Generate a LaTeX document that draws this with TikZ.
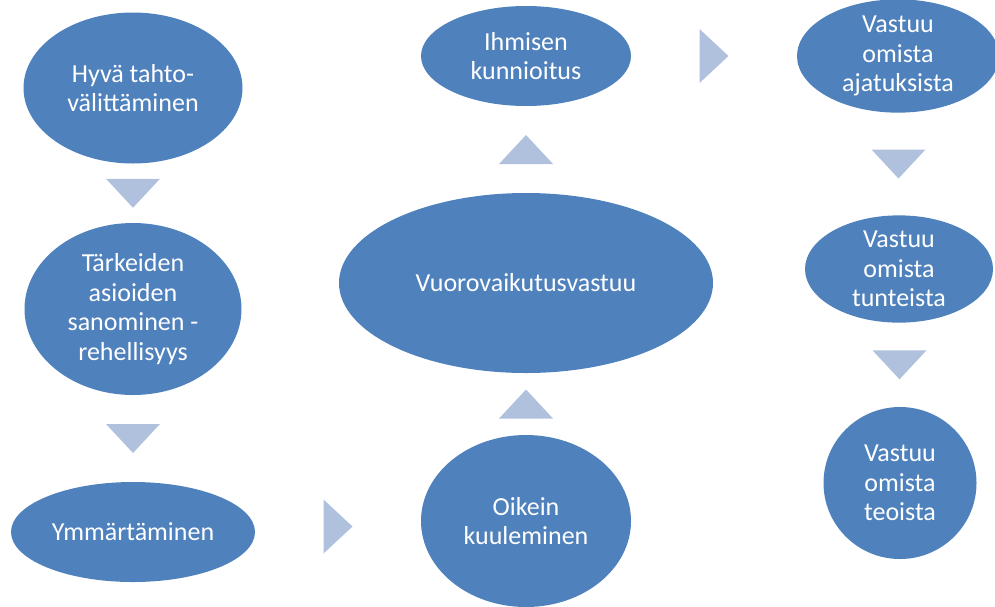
\documentclass[tikz,border=0pt]{standalone}
\usepackage{fontspec}
\setmainfont{Carlito}
\usetikzlibrary{shapes.geometric}
\definecolor{ideablue}{HTML}{4F81BD}
\definecolor{flowblue}{HTML}{B0C1DE}
\begin{document}
\begin{tikzpicture}[x=1pt,y=-1pt]
	\tikzstyle{idea}=[ellipse,fill=ideablue,text=white,inner sep=0pt,align=center,font=\fontsize{26}{29.5}\selectfont]
	\tikzset{flow/.pic={\fill[flowblue] (-14.5,-27) -- (14.5,0) -- (-14.5,27) -- cycle;}}
	\useasboundingbox (0,0) rectangle (995,606);
	\begin{scope}
		\node [idea,minimum width=219pt,minimum height=151pt] (hyva) at (133,88) {Hyvä tahto-\\välittäminen};
		\node [idea,minimum width=217pt,minimum height=172pt] (sanominen) at (133,309) {Tärkeiden\\asioiden\\sanominen -\\rehellisyys};
		\node [idea,minimum width=244pt,minimum height=100pt] (ymmarrys) at (133,532) {Ymmärtäminen};
		\node [idea,minimum width=210pt,minimum height=172pt] (kuuleminen) at (526,521) {Oikein\\kuuleminen};
		\node [idea,minimum width=374pt,minimum height=180pt] (vastuu) at (526,283) {Vuorovaikutusvastuu};
		\node [idea,minimum width=210pt,minimum height=100pt] (kunnioitus) at (526,56) {Ihmisen\\kunnioitus};
		\node [idea,minimum width=202pt,minimum height=100pt] (ajatukset) at (898,56) {Vastuu\\omista\\ajatuksista};
		\node [idea,minimum width=188pt,minimum height=100pt] (tunteet) at (899,269) {Vastuu\\omista\\tunteista};
		\node [idea,minimum width=153pt,minimum height=152pt] (teot) at (900,483) {Vastuu\\omista\\teoista};
	\end{scope}
	\path (hyva.south) -- (sanominen.north) coordinate[midway] (f1);
	\path (sanominen.south) -- (ymmarrys.north) coordinate[midway] (f2);
	\path (ymmarrys.east) -- (kuuleminen.west) coordinate[midway] (f3);
	\path (kuuleminen.north) -- (vastuu.south) coordinate[midway] (f4);
	\path (vastuu.north) -- (kunnioitus.south) coordinate[midway] (f5);
	\path (kunnioitus.east) -- (ajatukset.west) coordinate[midway] (f6);
	\path (ajatukset.south) -- (tunteet.north) coordinate[midway] (f7);
	\path (tunteet.south) -- (teot.north) coordinate[midway] (f8);
	\pic [rotate=-90] at (f1) {flow};
	\pic [rotate=-90] at (f2) {flow};
	\pic at (f3) {flow};
	\pic [rotate=90] at (f4) {flow};
	\pic [rotate=90] at (f5) {flow};
	\pic at (f6) {flow};
	\pic [rotate=-90] at (f7) {flow};
	\pic [rotate=-90] at (f8) {flow};
\end{tikzpicture}
\end{document}
